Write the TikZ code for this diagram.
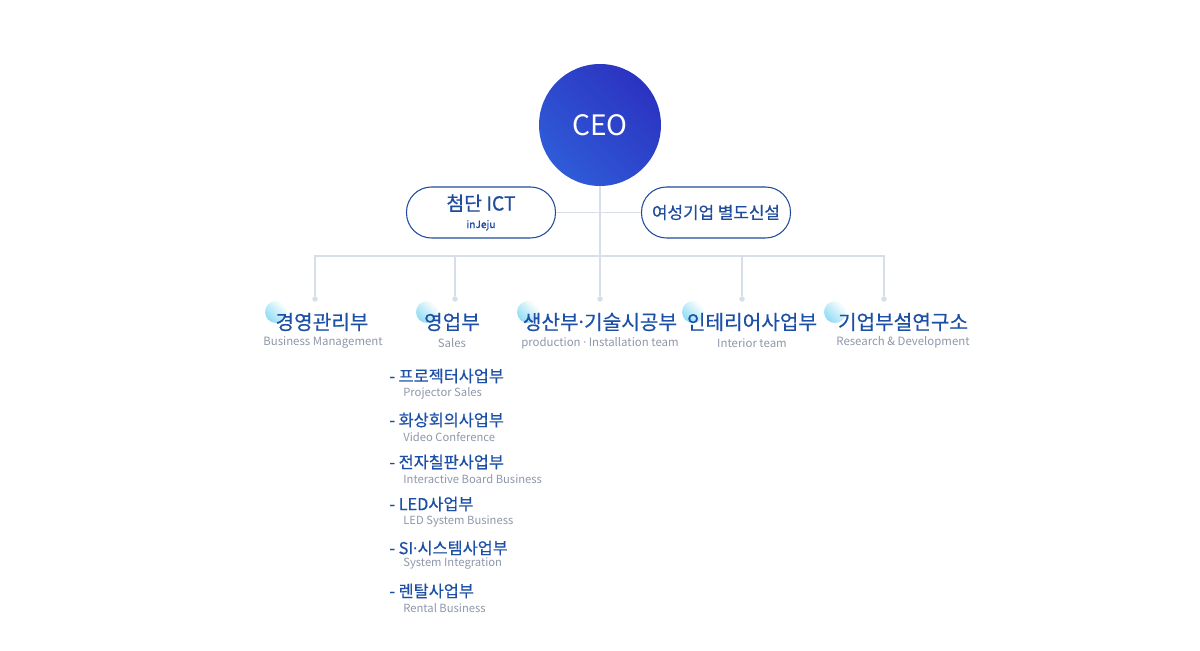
\documentclass[tikz,border=0pt]{standalone}
\usepackage{fontspec}
\setmainfont{Noto Sans CJK KR}
\newfontfamily\krmed[FakeBold=0.5]{Noto Sans CJK KR}
\newfontfamily\latindot{Noto Sans}
\newcommand{\mdot}{{\latindot ·}}
\definecolor{deptblue}{HTML}{1C4FA6}
\definecolor{subgray}{HTML}{8E97AA}
\definecolor{linegray}{HTML}{D8DEE8}
\definecolor{pillblue}{HTML}{1F4C9C}
\definecolor{ceolight}{HTML}{2F5BD8}
\definecolor{ceodark}{HTML}{2B33C0}
\definecolor{bubblecyan}{HTML}{8FDCF5}
\tikzset{
  link/.style={draw=linegray, line width=0.7pt},
  dot/.style={circle, fill=linegray, inner sep=0pt, minimum size=0.11cm},
  dept/.style={text=deptblue, inner sep=0pt, font=\krmed\fontsize{11.5}{13}\selectfont},
  deptsub/.style={text=subgray, inner sep=0pt, font=\fontsize{6.5}{7}\selectfont},
  item/.style={text=deptblue, inner sep=0pt, anchor=west, font=\krmed\fontsize{9.3}{10}\selectfont},
  itemsub/.style={text=subgray, inner sep=0pt, anchor=west, font=\fontsize{6.4}{7}\selectfont},
  pill/.style={draw=pillblue, line width=0.6pt, fill=white, rounded corners=0.5cm,
    minimum width=2.98cm, minimum height=1.02cm, text=pillblue, align=center},
  bubble/.style={left color=bubblecyan, right color=white, shading angle=135},
}
\begin{document}
\begin{tikzpicture}[x=0.02cm, y=-0.02cm]
\useasboundingbox (0,0) rectangle (1200,651);

% ceo and side boxes
\node[circle, minimum size=2.44cm, left color=ceolight, right color=ceodark, shading angle=135,
  text=white, font=\fontsize{16}{18}\selectfont] (ceo) at (600,125) {CEO};
\coordinate (hub) at (600,256);
\draw[link] (ceo.south) -- (hub);

\node[pill] (ict) at (481,212.5)
  {{\krmed\fontsize{11}{12}\selectfont 첨단 ICT}\\[-2pt]{\krmed\fontsize{5.8}{7}\selectfont inJeju}};
\node[pill, font=\krmed\fontsize{9.6}{10}\selectfont] (women) at (716,212.5) {여성기업 별도신설};
\draw[link] (ict.east) -- (women.west);

% drops
\node[dot] (d1) at (315,299) {};
\node[dot] (d2) at (455,299) {};
\node[dot] (d3) at (600,299) {};
\node[dot] (d4) at (742,299) {};
\node[dot] (d5) at (884,299) {};
\coordinate (bl) at (315,256);
\coordinate (br) at (884,256);
\draw[link] (d1) -- (bl) -- (br) -- (d5);
\draw[link] (d2) -- (d2 |- hub);
\draw[link] (d3) -- (hub);
\draw[link] (d4) -- (d4 |- hub);

% departments
\foreach \x in {276,427,528,693,835}
  \shade[bubble] (\x,312) circle (0.22cm);

\node[dept] (mgmt) at (322,322) {경영관리부};
\node[deptsub] (mgmtsub) at (323,343) {Business Management};
\node[dept] (sales) at (452,322) {영업부};
\node[deptsub] (salessub) at (452,343) {Sales};
\node[dept] (prod) at (600,322) {생산부\mdot 기술시공부};
\node[deptsub] (prodsub) at (600,343) {production \mdot{} Installation team};
\node[dept] (inter) at (752,322) {인테리어사업부};
\node[deptsub] (intersub) at (752,343) {Interior team};
\node[dept] (lab) at (903,322) {기업부설연구소};
\node[deptsub] (labsub) at (903,342) {Research \& Development};

% sales teams
\node[item] (s1) at (389,376) {- 프로젝터사업부};
\node[itemsub] (s1e) at (403,393) {Projector Sales};
\node[item] (s2) at (389,420) {- 화상회의사업부};
\node[itemsub] (s2e) at (403,437) {Video Conference};
\node[item] (s3) at (389,462) {- 전자칠판사업부};
\node[itemsub] (s3e) at (403,479) {Interactive Board Business};
\node[item] (s4) at (389,504) {- LED사업부};
\node[itemsub] (s4e) at (403,521) {LED System Business};
\node[item] (s5) at (389,548) {- SI\mdot 시스템사업부};
\node[itemsub] (s5e) at (403,564) {System Integration};
\node[item] (s6) at (389,591) {- 렌탈사업부};
\node[itemsub] (s6e) at (403,608) {Rental Business};
\end{tikzpicture}
\end{document}
